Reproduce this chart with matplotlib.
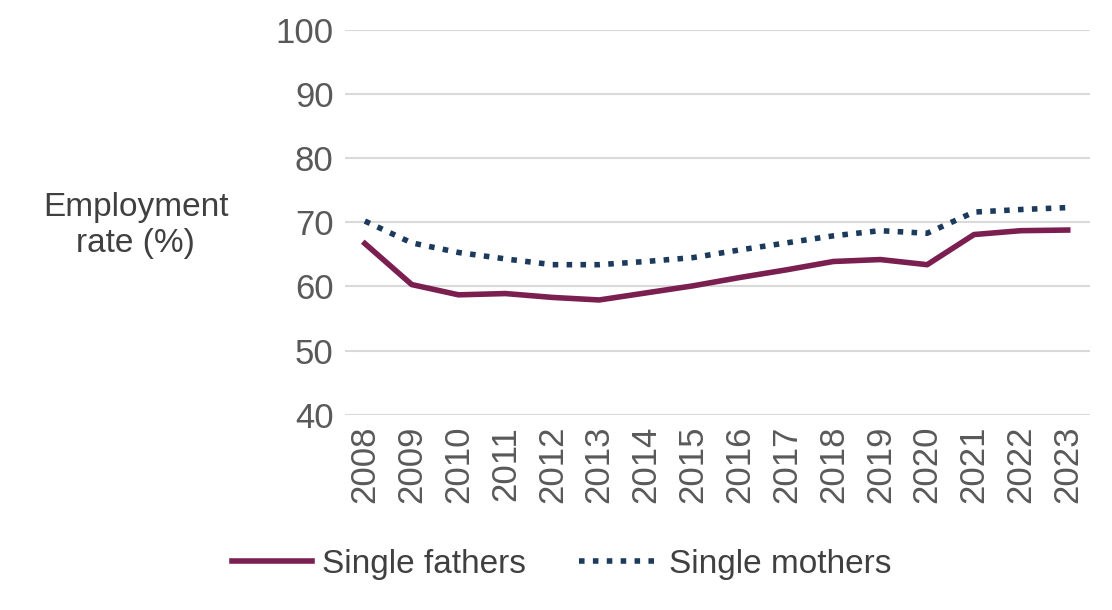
import matplotlib
matplotlib.use("Agg")
import matplotlib.pyplot as plt

plt.rcParams['font.family'] = ['Liberation Sans', 'DejaVu Sans']

years = list(range(2008, 2024))
fathers = [66.7, 60.3, 58.7, 58.9, 58.3, 57.9, 59.0, 60.1, 61.4, 62.6, 63.9, 64.2, 63.4, 68.1, 68.7, 68.8]
mothers = [70.2, 66.8, 65.3, 64.3, 63.4, 63.4, 63.9, 64.5, 65.7, 66.8, 67.9, 68.7, 68.3, 71.6, 72.0, 72.3]

fig = plt.figure(figsize=(11.12, 6.10), dpi=100)
ax = fig.add_axes([0.31, 0.32, 0.67, 0.631])

ax.plot(years, fathers, color='#7A1F4F', lw=4, label='Single fathers')
ax.plot(years, mothers, color='#1B3A5C', lw=4, ls=(0, (1, 1.5)), label='Single mothers')

ax.set_ylim(40, 100)
ax.set_yticks(range(40, 101, 10))
ax.set_xlim(2007.57, 2023.47)
ax.set_xticks(years)
ax.set_xticklabels([str(y) for y in years], rotation=90)
ax.tick_params(axis='both', length=0, labelsize=25, colors='#595959', pad=8)
ax.grid(axis='y', color='#D9D9D9', lw=1.5)
ax.set_axisbelow(True)
for s in ax.spines.values():
    s.set_visible(False)

fig.text(0.122, 0.63, 'Employment\nrate (%)', ha='center', va='center',
         fontsize=24, color='#404040', linespacing=1.2)

fig.legend(loc='lower center', bbox_to_anchor=(0.505, 0.0), ncol=2, frameon=False,
           fontsize=24, labelcolor='#404040', handlelength=2.4, columnspacing=1.6,
           handletextpad=0.3)

fig.savefig('out.png', dpi=100)
